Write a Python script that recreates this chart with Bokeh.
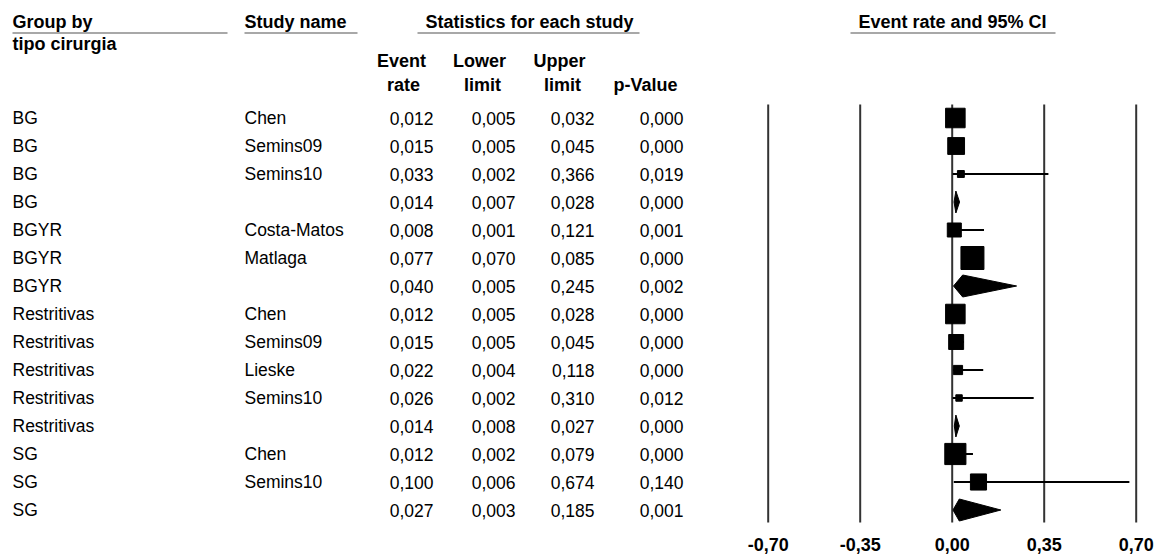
from bokeh.plotting import figure
from bokeh.models import Range1d, LinearAxis, FixedTicker, CustomJSTickFormatter, ColumnDataSource
from bokeh.core.properties import value
from bokeh.embed import file_html
from bokeh.resources import INLINE

# ---------------- data ----------------
groups = ["BG", "BG", "BG", "BG", "BGYR", "BGYR", "BGYR",
          "Restritivas", "Restritivas", "Restritivas", "Restritivas", "Restritivas",
          "SG", "SG", "SG"]
studies = ["Chen", "Semins09", "Semins10", "", "Costa-Matos", "Matlaga", "",
           "Chen", "Semins09", "Lieske", "Semins10", "",
           "Chen", "Semins10", ""]
event_rate = [0.012, 0.015, 0.033, 0.014, 0.008, 0.077, 0.040,
              0.012, 0.015, 0.022, 0.026, 0.014, 0.012, 0.100, 0.027]
lower_limit = [0.005, 0.005, 0.002, 0.007, 0.001, 0.070, 0.005,
               0.005, 0.005, 0.004, 0.002, 0.008, 0.002, 0.006, 0.003]
upper_limit = [0.032, 0.045, 0.366, 0.028, 0.121, 0.085, 0.245,
               0.028, 0.045, 0.118, 0.310, 0.027, 0.079, 0.674, 0.185]
p_value = [0.000, 0.000, 0.019, 0.000, 0.001, 0.000, 0.002,
           0.000, 0.000, 0.000, 0.012, 0.000, 0.000, 0.140, 0.001]
# relative study weight (square size), None for subgroup summaries
rel_weight = [85, 73, 30, None, 61, 100, None, 85, 65, 40, 28, None, 92, 70, None]
axis_ticks = [-0.70, -0.35, 0.00, 0.35, 0.70]

# ---------------- layout constants ----------------
W, H = 1165, 557
BORDER_BOTTOM = 30
FRAME_H = H - BORDER_BOTTOM
ROW0, ROW_STEP = 117.5, 28.0
ZERO_X, PX_PER_UNIT = 951.7, 262.86
MAX_SQ = 23
DIAMOND_H = 22
FONT = "Liberation Sans"
BODY = "17.5px"
HEAD = "18px"

def fmt(v):
    return f"{v:.3f}".replace(".", ",")

n = len(groups)
row_y = [ROW0 + ROW_STEP * i for i in range(n)]

p = figure(width=W, height=H, output_backend="svg", toolbar_location=None,
           x_range=Range1d(0, W), y_range=Range1d(FRAME_H, 0),
           x_axis_location=None, y_axis_location=None,
           min_border_left=0, min_border_right=0, min_border_top=0,
           min_border_bottom=BORDER_BOTTOM)
p.outline_line_color = None
p.xgrid.visible = False
p.ygrid.visible = False
p.background_fill_color = "white"
p.border_fill_color = "white"

p.extra_x_ranges = {"er": Range1d(-ZERO_X / PX_PER_UNIT, (W - ZERO_X) / PX_PER_UNIT)}

# ---------------- headers ----------------
def head(x, y, t, align="left"):
    p.text(x=[x], y=[y], text=[t], text_font=value(FONT), text_font_size=HEAD,
           text_font_style="bold", text_align=align, text_baseline="middle",
           text_color="#000000")

head(12, 21, "Group by")
head(12, 43, "tipo cirurgia")
head(244, 21, "Study name")
head(529, 21, "Statistics for each study", "center")
head(952, 21, "Event rate and 95% CI", "center")
head(401, 60, "Event", "center")
head(403, 84, "rate", "center")
head(479, 60, "Lower", "center")
head(482, 84, "limit", "center")
head(559, 60, "Upper", "center")
head(562, 84, "limit", "center")
head(645, 84, "p-Value", "center")

p.segment(x0=[12, 244, 417, 850], x1=[227, 357, 639, 1055],
          y0=[32.5] * 4, y1=[32.5] * 4, line_color="#a8a8a8", line_width=2)

# ---------------- table body ----------------
src = ColumnDataSource(dict(
    y=row_y, group=groups, study=studies,
    er=[fmt(v) for v in event_rate], lo=[fmt(v) for v in lower_limit],
    up=[fmt(v) for v in upper_limit], pv=[fmt(v) for v in p_value]))

def body(x, col, align):
    p.text(x=x, y="y", text=col, source=src, text_font=value(FONT),
           text_font_size=BODY, text_align=align, text_baseline="middle",
           text_color="#000000")

body(12, "group", "left")
body(244, "study", "left")
body(433, "er", "right")
body(515, "lo", "right")
body(594, "up", "right")
body(683, "pv", "right")

# ---------------- forest plot ----------------
p.segment(x0=axis_ticks, x1=axis_ticks, y0=[104] * len(axis_ticks), y1=[522] * len(axis_ticks),
          x_range_name="er", line_color="#333333", line_width=2)

st_idx = [i for i in range(n) if rel_weight[i] is not None]
sm_idx = [i for i in range(n) if rel_weight[i] is None]

p.segment(x0=[lower_limit[i] for i in st_idx], x1=[upper_limit[i] for i in st_idx],
          y0=[row_y[i] for i in st_idx], y1=[row_y[i] for i in st_idx],
          x_range_name="er", line_color="#000000", line_width=2)
p.scatter(x=[event_rate[i] for i in st_idx], y=[row_y[i] for i in st_idx],
          size=[rel_weight[i] / 100 * MAX_SQ for i in st_idx], marker="square",
          x_range_name="er", fill_color="#000000", line_color="#000000")

p.patches(xs=[[lower_limit[i], event_rate[i], upper_limit[i], event_rate[i]] for i in sm_idx],
          ys=[[row_y[i], row_y[i] - DIAMOND_H / 2, row_y[i], row_y[i] + DIAMOND_H / 2] for i in sm_idx],
          x_range_name="er", fill_color="#000000", line_color="#000000")

axis = LinearAxis(x_range_name="er", ticker=FixedTicker(ticks=axis_ticks),
                  formatter=CustomJSTickFormatter(code="return tick.toFixed(2).replace('.', ',');"))
axis.axis_line_color = None
axis.major_tick_line_color = None
axis.minor_tick_line_color = None
axis.major_label_standoff = 4
axis.major_label_text_font = FONT
axis.major_label_text_font_size = HEAD
axis.major_label_text_font_style = "bold"
axis.major_label_text_color = "#000000"
p.add_layout(axis, "below")

open("out.html", "w").write(file_html(p, INLINE))
